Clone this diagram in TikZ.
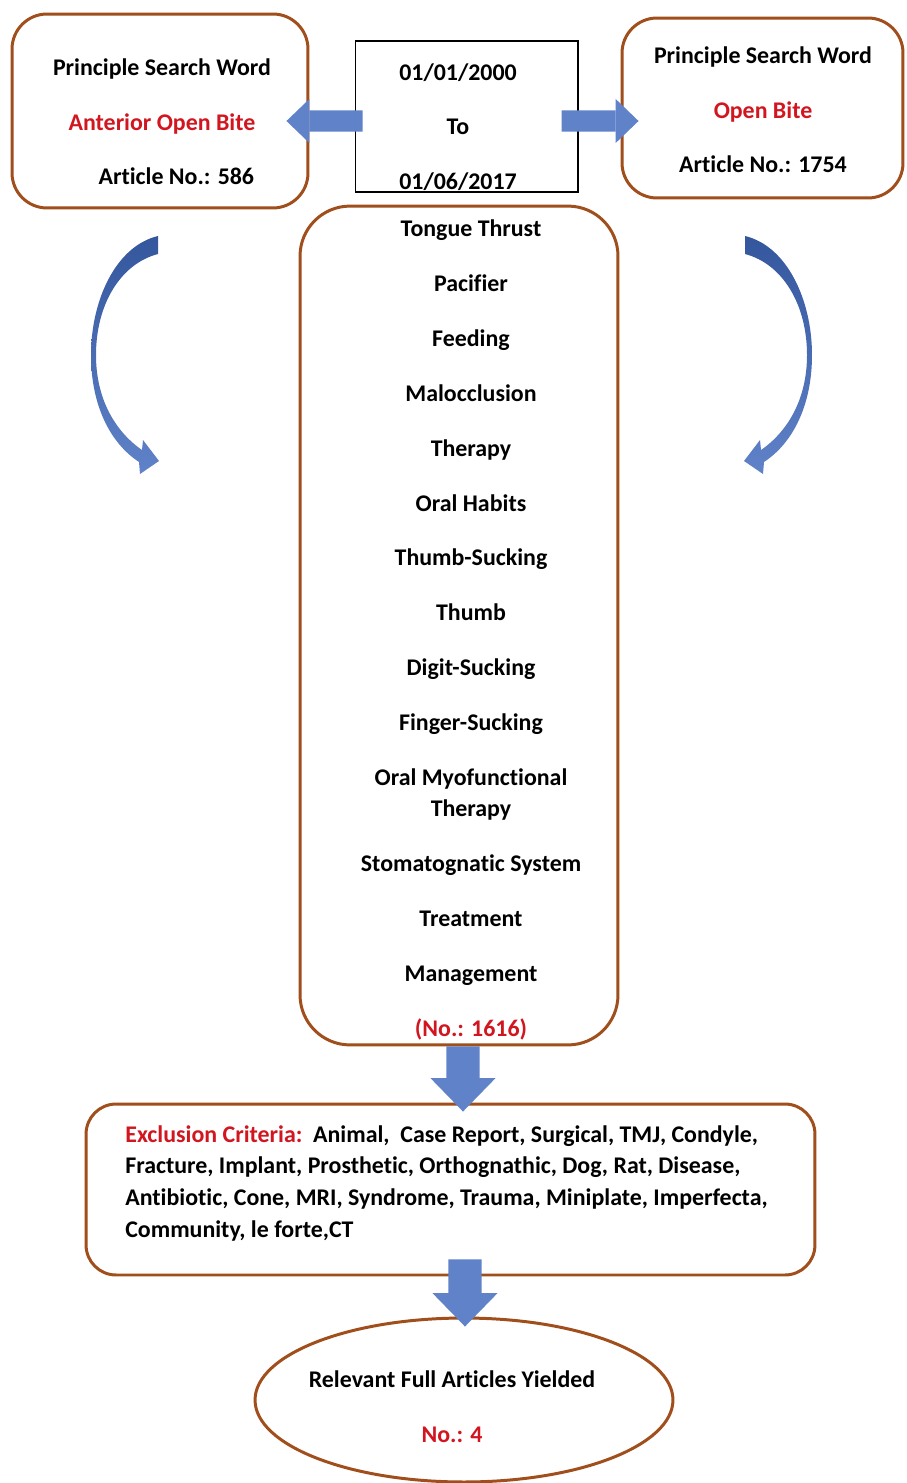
\documentclass[tikz,border=0pt]{standalone}
\usepackage{fontspec}
\setmainfont{Carlito}[Ligatures=NoCommon]
\usetikzlibrary{arrows.meta,shapes.geometric,positioning}

\definecolor{boxbrown}{RGB}{160,78,28}
\definecolor{wordred}{RGB}{210,22,32}
\definecolor{arrowblue}{RGB}{96,130,200}
\definecolor{arrowdark}{RGB}{52,86,156}

\tikzset{
  roundbox/.style={draw=boxbrown, line width=1.7pt, fill=white, rounded corners=0.7cm},
  datebox/.style={draw=black, line width=0.6pt, fill=white},
  wordtext/.style={align=center, inner sep=0pt},
  sidearrow/.style={arrowblue, line width=12pt, -{Triangle[length=13pt 0, width=25pt 0, line width=0pt 0]}},
  downarrow/.style={arrowblue, line width=19pt, -{Triangle[length=19pt 0, width=37pt 0, line width=0pt 0]}}
}
\newcommand{\redword}[1]{\textcolor{wordred}{#1}}

\begin{document}
\begin{tikzpicture}[x=0.02cm, y=-0.02cm, font=\fontsize{13.6}{18.1}\selectfont\bfseries]
  \useasboundingbox (0,0) rectangle (906,1483);

  % boxes
  \node[roundbox, minimum width=5.92cm, minimum height=3.88cm] (anterior) at (160,111) {};
  \node[datebox, minimum width=4.46cm, minimum height=3.02cm] (period) at (466.5,116.5) {};
  \node[roundbox, minimum width=5.62cm, minimum height=3.6cm] (openbite) at (762.5,108) {};
  \node[roundbox, rounded corners=1cm, minimum width=6.36cm, minimum height=16.78cm] (terms) at (459,625.5) {};
  \node[roundbox, rounded corners=0.6cm, minimum width=14.58cm, minimum height=3.42cm] (exclusion) at (450.5,1189.5) {};
  \node[draw=boxbrown, line width=1.7pt, fill=white, ellipse, minimum width=8.36cm, minimum height=3.28cm] (yield) at (464,1400) {};

  % texts
  \node[wordtext] (anteriortxt) at (162,122) {Principle Search Word\\[13pt]\redword{Anterior Open Bite}\\[13pt]\hspace{1.2em}Article No.: 586};
  \node[wordtext] (periodtxt) at (458,127) {01/01/2000\\[13pt]To\\[13pt]01/06/2017};
  \node[wordtext] (openbitetxt) at (763,110) {Principle Search Word\\[13pt]\redword{Open Bite}\\[13pt]Article No.: 1754};
  \node[wordtext] (termstxt) at (471,630) {Tongue Thrust\\[13.1pt]Pacifier\\[13.1pt]Feeding\\[13.1pt]Malocclusion\\[13.1pt]Therapy\\[13.1pt]Oral Habits\\[13.1pt]Thumb-Sucking\\[13.1pt]Thumb\\[13.1pt]Digit-Sucking\\[13.1pt]Finger-Sucking\\[13.1pt]Oral Myofunctional\\Therapy\\[13.1pt]Stomatognatic System\\[13.1pt]Treatment\\[13.1pt]Management\\[13.1pt]\redword{(No.: 1616)}};
  \node[inner sep=0pt, anchor=north west, align=left] (exclusiontxt) at (125,1125) {\redword{Exclusion Criteria:}\ \ Animal,\ \ Case Report, Surgical, TMJ, Condyle,\\Fracture, Implant, Prosthetic, Orthognathic, Dog, Rat, Disease,\\Antibiotic, Cone, MRI, Syndrome, Trauma, Miniplate, Imperfecta,\\Community, le forte,CT};
  \node[wordtext] (yieldtxt) at (452,1407) {Relevant Full Articles Yielded\\[13pt]\redword{No.: 4}};

  % block arrows
  \draw[sidearrow] ([shift={(8,4.5)}]period.west) -- ([shift={(-23,10)}]anterior.east);
  \draw[sidearrow] ([shift={(-17,4.5)}]period.east) -- ([shift={(18,13)}]openbite.west);
  \draw[downarrow] ([xshift=4*0.02cm]terms.south) -- ([xshift=12.5*0.02cm, yshift=-9*0.02cm]exclusion.north);
  \draw[downarrow] ([shift={(14.5,-17)}]exclusion.south) -- ([shift={(1,10)}]yield.north);

  % curved arrows
  \foreach \s/\xo in {1/0,-1/903}{
    \begin{scope}[shift={(\xo,0)}, xscale=\s]
      \shade[top color=arrowdark, bottom color=arrowblue]
        (158,236) .. controls (116,246) and (91,300) .. (91,355)
        .. controls (91,405) and (110,443) .. (139,462)
        -- (140,474) -- (159,461) -- (143,440) -- (142,450)
        .. controls (116,432) and (96,400) .. (96,355)
        .. controls (96,305) and (120,264) .. (158,254) -- cycle;
    \end{scope}
  }
\end{tikzpicture}
\end{document}
